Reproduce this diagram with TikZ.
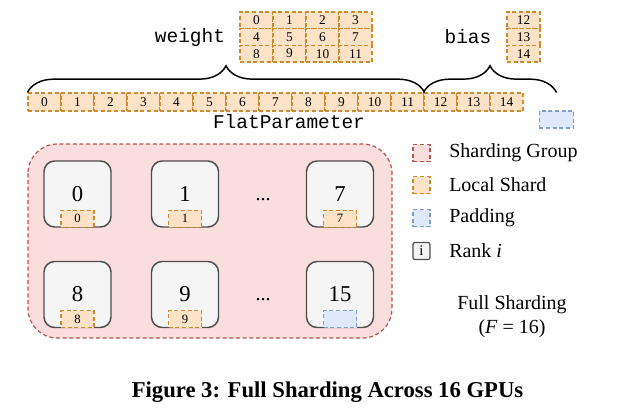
\documentclass[tikz,border=0pt]{standalone}
\usepackage{fontspec}
\setmainfont{Liberation Serif}
\newfontfamily\monof{Liberation Mono}
\usetikzlibrary{decorations.pathreplacing}
\definecolor{shardfill}{HTML}{FCE2C6}
\definecolor{shardline}{HTML}{D08A2E}
\definecolor{groupfill}{HTML}{FADDDD}
\definecolor{groupline}{HTML}{B85450}
\definecolor{padfill}{HTML}{DEE9FB}
\definecolor{padline}{HTML}{7F9CCB}
\definecolor{rankfill}{HTML}{F5F5F5}
\definecolor{rankline}{HTML}{4D4D4D}
\tikzset{
  dsh/.style={dash pattern=on 3pt off 2pt},
  cellw/.style={draw=shardline, fill=shardfill, dsh, line width=0.8pt, inner sep=0pt,
    minimum width=24.75pt, minimum height=12.5pt, font=\fontsize{10}{10}\selectfont},
  barcell/.style={cellw, minimum height=13.5pt},
  smallcell/.style={cellw, minimum height=12.75pt, font=\fontsize{9.5}{9.5}\selectfont},
  padcell/.style={smallcell, draw=padline, fill=padfill},
  rankbox/.style={draw=rankline, fill=rankfill, rounded corners=8pt, line width=1.1pt,
    minimum width=50.25pt, minimum height=49.5pt, inner sep=0pt, font=\fontsize{17}{17}\selectfont},
  group/.style={draw=groupline, fill=groupfill, dsh, line width=0.9pt, rounded corners=22pt},
  mono/.style={font=\monof\fontsize{14.6}{14.6}\selectfont},
  legicon/.style={dsh, line width=0.8pt, minimum width=12.75pt, minimum height=12.75pt, inner sep=0pt},
  legtext/.style={anchor=west, inner sep=0pt, font=\fontsize{15}{15}\selectfont},
  bigbrace/.style={decorate, decoration={brace, amplitude=20pt}, line width=1.1pt},
  dotsl/.style={font=\fontsize{15}{15}\selectfont, inner sep=0pt}
}
\begin{document}
\begin{tikzpicture}[x=0.75pt, y=-0.75pt]
\useasboundingbox (0,0) rectangle (640,419);
% weight grid
\foreach \r in {0,1,2} {
  \foreach \c in {0,...,3} {
    \pgfmathtruncatemacro\n{4*\r+\c}
    \node[cellw] (w\n) at ({256.5+33*\c},{20.3+16.67*\r}) {\n};
  }
}
\foreach \r in {0,1,2} {
  \pgfmathtruncatemacro\n{12+\r}
  \node[cellw] (bi\n) at (523.5,{20.3+16.67*\r}) {\n};
}
\node[mono] (weight) at (190,37) {weight};
\node[mono] (bias) at (468,37) {bias};
% flat parameter
\foreach \k in {0,...,14} {
  \node[barcell] (b\k) at ({44.5+33*\k},102) {\k};
}
\node[padcell, minimum width=26pt] (pad) at (556.5,119.5) {};
\node[mono] (flat) at (289,122) {FlatParameter};
\draw[bigbrace] (b0.north west) -- (b11.north east);
\draw[bigbrace] (b12.north west) -- (pad.north |- b12.north);
% sharding group
\draw[group] (28,144) rectangle (392,338);
\foreach \i/\x/\y in {0/77.5/194, 1/185/194, 7/340/194, 8/77.5/294.5, 9/185/294.5} {
  \node[rankbox] (r\i) at (\x,\y) {\i};
  \node[smallcell, anchor=south] (s\i) at (r\i.south) {\i};
}
\node[rankbox] (r15) at (340,294.5) {15};
\node[padcell, anchor=south] (s15) at (r15.south) {};
\node[dotsl, anchor=base] (d1) at (263,200.5) {...};
\node[dotsl, anchor=base] (d2) at (263,300.5) {...};
% legend
\node[legicon, draw=groupline, fill=groupfill] (lg1) at (421.5,153) {};
\node[legicon, draw=shardline, fill=shardfill] (lg2) at (421.5,185) {};
\node[legicon, draw=padline, fill=padfill] (lg3) at (421.5,218) {};
\node[legicon, solid, draw=rankline, fill=rankfill, rounded corners=1.5pt, line width=0.9pt,
      font=\fontsize{11}{11}\selectfont] (lg4) at (421.5,251) {i};
\node[legtext] (lt1) at (449,153) {Sharding Group};
\node[legtext] (lt2) at (449,185) {Local Shard};
\node[legtext] (lt3) at (449,218) {Padding};
\node[legtext] (lt4) at (449,251) {Rank \textit{i}};
\node[font=\fontsize{15}{15}\selectfont, align=center, inner sep=0pt] (fs) at (512,317)
  {Full Sharding\\[3pt](\textit{F} = 16)};
% caption
\node[font=\bfseries\fontsize{17}{17}\selectfont] (cap) at (327.5,392)
  {Figure 3: Full Sharding Across 16 GPUs};
\end{tikzpicture}
\end{document}
